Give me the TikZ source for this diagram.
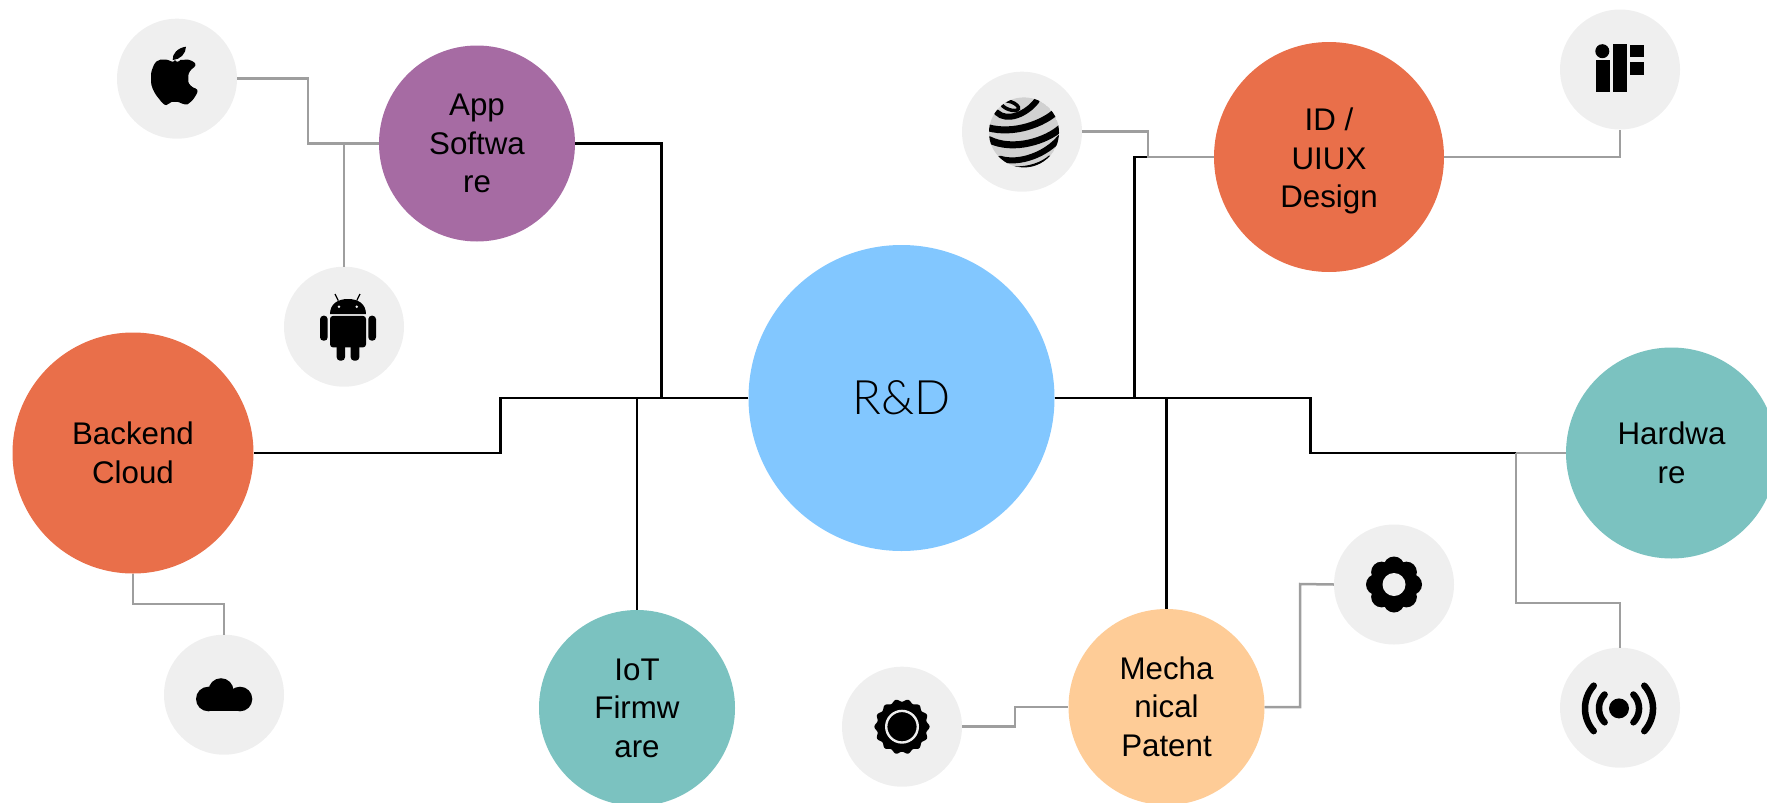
\documentclass[tikz,border=0pt]{standalone}
\usepackage{fontspec}
\setmainfont{Liberation Sans}
\newfontfamily\hubfont[UprightFont={* Light}]{Lato}
\definecolor{hubblue}{HTML}{82C7FF}
\definecolor{coral}{HTML}{E96F4A}
\definecolor{plum}{HTML}{A66BA3}
\definecolor{teal2}{HTML}{7BC2C0}
\definecolor{peach}{HTML}{FECC97}
\definecolor{badge}{HTML}{EFEFEF}
\definecolor{wire}{HTML}{9E9E9E}
\newcommand{\lab}[2]{\raisebox{#1pt}[0pt][0pt]{\begin{tabular}{@{}c@{}}#2\end{tabular}}}
\tikzset{
  area/.style={circle,inner sep=0pt,font=\fontsize{31.3}{38.5}\selectfont,text=black},
  iconbadge/.style={circle,fill=badge,minimum size=120pt,inner sep=0pt},
  trunk/.style={draw=black,line width=2.7pt},
  twig/.style={draw=wire,line width=2.5pt},
  glyph/.style={fill=black,draw=none},
  wave/.style={draw=black,line width=6.5pt,line cap=round},
  stripe/.style={draw=black,line cap=round}
}
\begin{document}
\begin{tikzpicture}[x=1pt,y=-1pt]
\useasboundingbox (0,0) rectangle (1767,803);
\clip (0,0) rectangle (1767,803);
% main circles
\node[area,fill=hubblue,minimum size=306pt,font=\hubfont\fontsize{47.5}{50}\selectfont] (rd) at (901.5,398) {R\&D};
\node[area,fill=plum,minimum size=196pt] (app) at (477,143.5) {\lab{-9.3}{App\\Softwa\\re}};
\node[area,fill=coral,minimum size=241pt] (back) at (133,453) {\lab{-9.3}{Backend\\Cloud}};
\node[area,fill=teal2,minimum size=196pt] (iot) at (637,708) {\lab{-9.3}{IoT\\Firmw\\are}};
\node[area,fill=coral,minimum size=230pt] (id) at (1329,157) {\lab{-11}{ID /\\UIUX\\Design}};
\node[area,fill=teal2,minimum size=211pt] (hw) at (1671.5,453) {\lab{-9.3}{Hardwa\\re}};
\node[area,fill=peach,minimum size=196pt] (mech) at (1166.5,707) {\lab{-9.3}{Mecha\\nical\\Patent}};
% icon badges
\node[iconbadge] (apple) at (177,78.7) {};
\node[iconbadge] (android) at (344,326.7) {};
\node[iconbadge] (cloud) at (224,694.7) {};
\node[iconbadge] (sphere) at (1022,131.7) {};
\node[iconbadge] (ifl) at (1620,69.5) {};
\node[iconbadge] (radio) at (1620,707.7) {};
\node[iconbadge] (flower) at (1394,584.5) {};
\node[iconbadge] (gear) at (902,726.7) {};
% bends
\coordinate (jl) at (500.7,398);
\coordinate (ja) at (661.7,398);
\coordinate (ji) at (637,398);
\coordinate (jm) at (1166.5,398);
\coordinate (jd) at (1134.7,398);
\coordinate (jr) at (1310.7,398);
\coordinate (jh) at (1516,453);
\coordinate (jt) at (308,143.5);
\coordinate (jdr) at (344,143.5);
\coordinate (js) at (1148,157);
\coordinate (jrd) at (1620,603);
\coordinate (jbk) at (224,604);
\coordinate (jf) at (1300,584);
\coordinate (jg) at (1015,707);
% black connectors
\draw[trunk] (rd.west) -- (jl) |- (back.east);
\draw[trunk] (app.east) -| (ja);
\draw[trunk] (iot.north) -- (ji);
\draw[trunk] (rd.east) -- (jr) |- (jh);
\draw[trunk] (mech.north) -- (jm);
\draw[trunk] (jd) |- (js);
% grey connectors
\draw[twig] (apple.east) -| (jt) -- (app.west);
\draw[twig] (android.north) -- (jdr);
\draw[twig] (back.south) |- (jbk) -- (cloud.north);
\draw[twig] (sphere.east) -| (js) -- (id.west);
\draw[twig] (id.east) -| (ifl.south);
\draw[twig] (jh) -- (hw.west);
\draw[twig] (jh) |- (jrd) -- (radio.north);
\draw[twig] (mech.east) -| (jf) -- (flower.west);
\draw[twig] (gear.east) -| (jg) -- (mech.west);
% apple
\begin{scope}[shift={(apple.center)}]
\fill[glyph,rounded corners=3pt] (-2,-16.3) .. controls (1,-17) and (4,-18.7) .. (6.3,-18.7)
 .. controls (12,-19.5) and (17,-17) .. (19.7,-13)
 .. controls (13,-9) and (11.3,-5) .. (11.3,0.3)
 .. controls (11.5,5) and (15,9) .. (21.3,10.3)
 .. controls (20,15) and (17,20) .. (13,24)
 .. controls (10,26) and (7,25.5) .. (4.7,25)
 .. controls (1,23) and (-5,23) .. (-8,25)
 .. controls (-12,27) and (-15,24) .. (-18,20)
 .. controls (-23,14) and (-26,7) .. (-26,0)
 .. controls (-26,-9) and (-22,-19) .. (-13.7,-19)
 .. controls (-9,-19) and (-5,-17) .. (-2,-16.3) -- cycle;
\fill[glyph] (-4.3,-18.7) .. controls (-5,-25) and (1,-31) .. (9,-32)
 .. controls (9,-25) and (3,-19) .. (-4.3,-18.7) -- cycle;
\end{scope}
% android
\begin{scope}[shift={(android.center)}]
\fill[glyph] (-14,-12.6) .. controls (-14,-23) and (-6,-27.7) .. (4,-27.7)
 .. controls (14,-27.7) and (22,-23) .. (22,-12.6) -- cycle;
\fill[glyph,rounded corners=3pt] (-14,-10.8) rectangle (22,20.7);
\fill[glyph,rounded corners=3.5pt] (-24,-11) rectangle (-16.3,14);
\fill[glyph,rounded corners=3.5pt] (24.3,-11) rectangle (32,14);
\fill[glyph,rounded corners=3.5pt] (-7.3,12) rectangle (1,34);
\fill[glyph,rounded corners=3.5pt] (6.7,12) rectangle (15.3,34);
\draw[black,line width=1.2pt] (-5.7,-26) -- (-9,-32.7) (12.7,-26) -- (16,-32.7);
\fill[badge] (-5,-20) circle[radius=1.4pt] (12.7,-20) circle[radius=1.4pt];
\end{scope}
% cloud
\begin{scope}[shift={(cloud.center)}]
\fill[glyph] (-15.7,4.3) circle[radius=12.3pt] (-3,-4) circle[radius=12.5pt] (16,4.3) circle[radius=12.3pt];
\fill[glyph] (-15.7,0) rectangle (16,16.6);
\end{scope}
% sphere
\begin{scope}[shift={(sphere.center)}]
\begin{scope}
\clip (2,0.7) circle[radius=35pt];
\fill[white!82!black] (2,0.7) circle[radius=35pt];
\draw[stripe,line width=3.5pt,rotate around={-20:(-12,-26)}] (-12,-26) ellipse[x radius=9pt,y radius=4pt];
\draw[stripe,line width=6pt] (-25.3,-19.3) .. controls (-15,-9.3) and (4.7,-17.7) .. (14.7,-31);
\draw[stripe,line width=7pt] (-34,-4) .. controls (-8.7,3) and (21.3,-7.7) .. (35,-21);
\draw[stripe,line width=7pt] (-33,8) .. controls (-8.7,20) and (24.7,9) .. (39,-4);
\draw[stripe,line width=6pt] (-22,27) .. controls (-2,33) and (24.7,22.3) .. (38,6);
\draw[stripe,line width=3pt] (-8,36) .. controls (6,37) and (20,32) .. (28,25);
\end{scope}
\end{scope}
% iF
\begin{scope}[shift={(ifl.center)}]
\fill[glyph] (-17.7,-18.3) circle[radius=7pt];
\fill[glyph] (-24.3,-9.7) rectangle (-10,22.7);
\fill[glyph] (-7.3,-25.7) rectangle (7.3,22.7);
\fill[glyph] (10,-24.7) rectangle (24,-12.3);
\fill[glyph] (10,-7.3) rectangle (24,5);
\end{scope}
% radio
\begin{scope}[shift={(radio.center)}]
\fill[glyph] (-1,0.7) circle[radius=10pt];
\draw[wave] plot[domain=-44:44,samples=24] ({-1+20*cos(\x)},{0.7+20*sin(\x)});
\draw[wave] plot[domain=-44:44,samples=24] ({-1-20*cos(\x)},{0.7+20*sin(\x)});
\draw[wave] plot[domain=-42:42,samples=30] ({-1+34*cos(\x)},{0.7+34*sin(\x)});
\draw[wave] plot[domain=-42:42,samples=30] ({-1-34*cos(\x)},{0.7+34*sin(\x)});
\end{scope}
% flower
\begin{scope}[shift={(flower.center)}]
\foreach \a in {0,45,...,315}{
  \fill[glyph] ({17.5*cos(\a)},{17.5*sin(\a)}) circle[radius=10.5pt];
}
\fill[glyph] (0,0) circle[radius=21pt];
\fill[badge] (0,0) circle[radius=11.5pt];
\end{scope}
% gear
\begin{scope}[shift={(gear.center)}]
\fill[glyph] plot[domain=0:360,samples=145] ({(26.3+1.3*cos(14*\x))*cos(\x)},{(26.3+1.3*cos(14*\x))*sin(\x)}) -- cycle;
\draw[badge,line width=2.4pt] (0,0) circle[radius=15.8pt];
\end{scope}
\end{tikzpicture}
\end{document}
